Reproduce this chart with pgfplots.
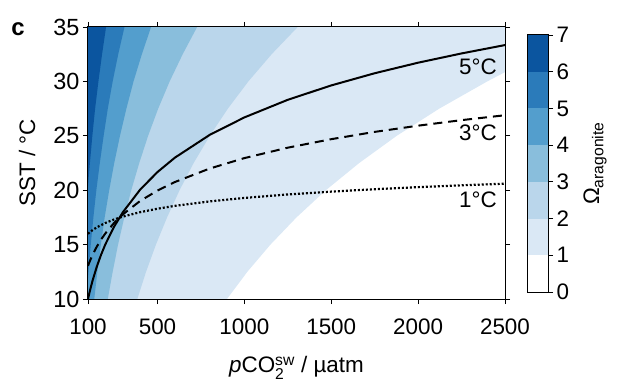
\documentclass[border=0pt]{standalone}
\usepackage{fontspec}
\setmainfont{Liberation Sans}
\usepackage{amsmath}
\usepackage{pgfplots}
\pgfplotsset{compat=1.18}
\definecolor{o1}{RGB}{218,232,245}
\definecolor{o2}{RGB}{186,214,235}
\definecolor{o3}{RGB}{137,190,220}
\definecolor{o4}{RGB}{83,158,205}
\definecolor{o5}{RGB}{43,123,186}
\definecolor{o6}{RGB}{11,85,159}
\begin{document}
\begin{tikzpicture}
\path[use as bounding box] (-88bp,-84bp) rectangle (529bp,299bp);
\begin{axis}[at={(0,0)}, anchor=south west, scale only axis, width=417bp, height=272bp,
  xmin=100, xmax=2500, ymin=10, ymax=35,
  xtick={100,500,1000,1500,2000,2500}, ytick={10,15,20,25,30,35},
  tick align=outside, major tick length=5bp,
  tick style={black, line width=0.8bp},
  axis line style={line width=1bp},
  /pgf/number format/assume math mode=true,
  /pgf/number format/1000 sep={},
  tick label style={font=\fontsize{22.5}{26}\selectfont},
  yticklabel style={font=\fontsize{23.5}{27}\selectfont},
  xticklabel style={yshift=-11bp},
  label style={font=\fontsize{22.5}{26}\selectfont},
  xlabel={\textit{p}CO$^{\text{sw}}_{\text{2}}$ / µatm},
  ylabel={SST / °C},
  xlabel style={at={(axis description cs:0.5,-0.272)}, anchor=base},
  ylabel style={at={(axis description cs:-0.146,0.5)}, anchor=center},
  axis on top]
% Omega >= 1
\addplot[fill=o1, draw=none] coordinates {(100,35) (2500,35) (2500,30.85) (2398,30) (2122,27.5) (1877,25) (1661,22.5) (1469,20) (1300,17.5) (1150,15) (1017,12.5) (900,10) (100,10)};
% Omega >= 2
\addplot[fill=o2, draw=none] coordinates {(100,35) (1307,35) (1157,32.5) (1023,30) (905,27.5) (801,25) (708,22.5) (627,20) (555,17.5) (491,15) (434,12.5) (384,10) (100,10)};
% Omega >= 3
\addplot[fill=o3, draw=none] coordinates {(100,35) (728,35) (645,32.5) (570,30) (504,27.5) (446,25) (395,22.5) (349,20) (309,17.5) (273,15) (242,12.5) (214,10) (100,10)};
% Omega >= 4
\addplot[fill=o4, draw=none] coordinates {(100,35) (463,35) (410,32.5) (362,30) (321,27.5) (284,25) (251,22.5) (222,20) (196,17.5) (174,15) (154,12.5) (136,10) (100,10)};
% Omega >= 5
\addplot[fill=o5, draw=none] coordinates {(100,35) (310,35) (274,32.5) (242,30) (214,27.5) (190,25) (168,22.5) (148,20) (131,17.5) (116,15) (103,12.5) (100,11.92)};
% Omega >= 6
\addplot[fill=o6, draw=none] coordinates {(100,35) (204,35) (181,32.5) (160,30) (141,27.5) (125,25) (111,22.5) (100,20.42)};
% 5 C
\addplot[black, line width=2bp] coordinates {(100,10.00) (110,10.69) (125,11.62) (150,12.94) (175,14.06) (200,15.03) (250,16.64) (300,17.96) (400,20.05) (500,21.67) (600,22.99) (800,25.08) (1000,26.69) (1250,28.31) (1500,29.63) (1750,30.75) (2000,31.72) (2250,32.57) (2500,33.34)};
% 3 C
\addplot[black, line width=2bp, dash pattern=on 9bp off 6bp] coordinates {(100,13.05) (110,13.46) (125,14.01) (150,14.79) (175,15.46) (200,16.03) (250,16.99) (300,17.77) (400,19.01) (500,19.97) (600,20.75) (800,21.99) (1000,22.95) (1250,23.91) (1500,24.69) (1750,25.36) (2000,25.93) (2250,26.44) (2500,26.89)};
% 1 C
\addplot[black, line width=2.2bp, dash pattern=on 2bp off 2bp] coordinates {(100,16.00) (125,16.32) (150,16.58) (200,16.99) (250,17.31) (300,17.57) (400,17.98) (500,18.30) (600,18.56) (800,18.97) (1000,19.29) (1250,19.61) (1500,19.87) (1750,20.09) (2000,20.28) (2250,20.45) (2500,20.60)};
\node[anchor=east, font=\fontsize{22.5}{26}\selectfont, inner sep=0pt] at (axis cs:2454,31.36) {5°C};
\node[anchor=east, font=\fontsize{22.5}{26}\selectfont, inner sep=0pt] at (axis cs:2454,25.25) {3°C};
\node[anchor=east, font=\fontsize{22.5}{26}\selectfont, inner sep=0pt] at (axis cs:2454,19.13) {1°C};
\end{axis}
\node[font=\fontsize{24}{28}\selectfont\bfseries] at (-70bp,270bp) {c};
\begin{axis}[at={(439bp,7bp)}, anchor=south west, scale only axis, width=21bp, height=257bp,
  xmin=0, xmax=1, ymin=0, ymax=7,
  xtick=\empty, ytick={0,1,2,3,4,5,6,7},
  ytick pos=right, yticklabel pos=right,
  tick align=outside, major tick length=5bp,
  tick style={black, line width=0.8bp},
  axis line style={line width=1bp},
  /pgf/number format/assume math mode=true,
  tick label style={font=\fontsize{22.5}{26}\selectfont},
  ylabel={Ω\textsubscript{aragonite}},
  ylabel style={font=\fontsize{22.5}{26}\selectfont, at={(axis description cs:3.24,0.5)}, anchor=center},
  axis on top]
\addplot[fill=o1, draw=none] coordinates {(0,1) (1,1) (1,2) (0,2)};
\addplot[fill=o2, draw=none] coordinates {(0,2) (1,2) (1,3) (0,3)};
\addplot[fill=o3, draw=none] coordinates {(0,3) (1,3) (1,4) (0,4)};
\addplot[fill=o4, draw=none] coordinates {(0,4) (1,4) (1,5) (0,5)};
\addplot[fill=o5, draw=none] coordinates {(0,5) (1,5) (1,6) (0,6)};
\addplot[fill=o6, draw=none] coordinates {(0,6) (1,6) (1,7) (0,7)};
\end{axis}
\end{tikzpicture}
\end{document}
